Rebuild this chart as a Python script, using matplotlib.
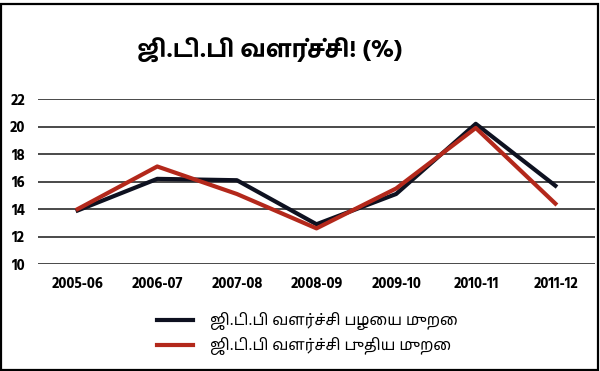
import matplotlib

matplotlib.use("Agg")
import matplotlib.pyplot as plt
from matplotlib.patches import Rectangle

years = ["2005-06", "2006-07", "2007-08", "2008-09", "2009-10", "2010-11", "2011-12"]
old_method = [13.9, 16.2, 16.1, 12.9, 15.1, 20.2, 15.7]
new_method = [14.0, 17.1, 15.1, 12.6, 15.5, 19.9, 14.4]
y_ticks = [10, 12, 14, 16, 18, 20, 22]

title = "ஜி.டி.பி வளர்ச்சி! (%)"
old_label = "ஜி.டி.பி வளர்ச்சி பழைய முறை"
new_label = "ஜி.டி.பி வளர்ச்சி புதிய முறை"

plt.rcParams["font.family"] = ["Hind Madurai", "Noto Sans Tamil", "DejaVu Sans"]

fig = plt.figure(figsize=(6, 3.71), dpi=100)
ax = fig.add_axes([0.063, 0.288, 0.929, 0.445])

x = range(len(years))
ax.plot(x, old_method, color="#0e1120", lw=3, label=old_label, zorder=3)
ax.plot(x, new_method, color="#b3281b", lw=3, label=new_label, zorder=4)

ax.set_xlim(-0.5, len(years) - 0.5)
ax.set_ylim(10, 22)
ax.set_yticks(y_ticks)
ax.set_xticks(list(x))
ax.set_xticklabels(years)
ax.grid(axis="y", color="#3a3a3a", lw=1.3)
ax.set_axisbelow(True)
for s in ax.spines.values():
    s.set_visible(False)
ax.tick_params(length=0, labelsize=10.5)
ax.tick_params(axis="y", pad=9)
ax.tick_params(axis="x", pad=9)
for lab in ax.get_xticklabels() + ax.get_yticklabels():
    lab.set_fontweight("bold")

fig.text(0.45, 0.865, title, ha="center", va="center", fontsize=17.5, fontweight="bold")

leg = fig.legend(loc="center left", bbox_to_anchor=(0.238, 0.1), frameon=False,
                 handlelength=2.4, handletextpad=1.1, labelspacing=0.45,
                 prop={"family": ["Noto Sans Tamil", "DejaVu Sans"], "size": 11})

fig.patches.append(Rectangle((0.002, 0.004), 0.995, 0.985, transform=fig.transFigure,
                             fill=False, edgecolor="black", lw=1.6))

fig.savefig("out.png")
